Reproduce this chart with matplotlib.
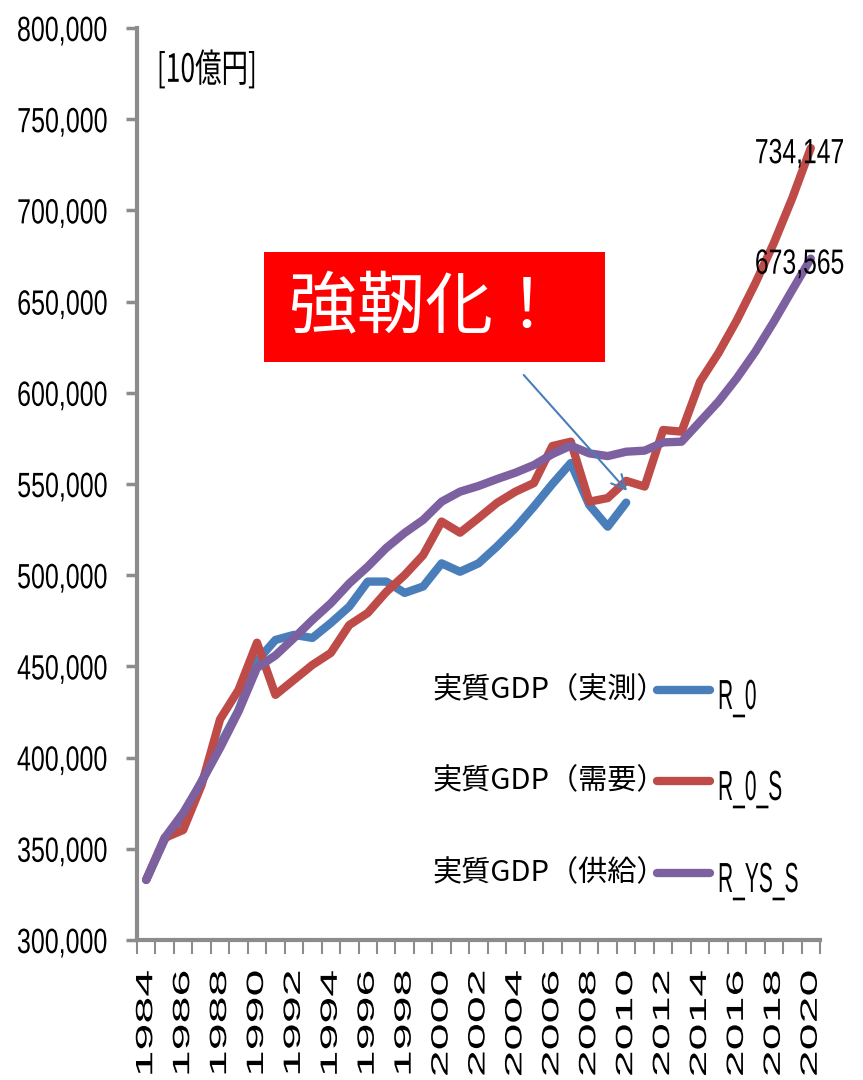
import matplotlib
matplotlib.use("Agg")
import matplotlib.pyplot as plt
from matplotlib.lines import Line2D
from matplotlib.patches import Rectangle
from matplotlib.patheffects import AbstractPathEffect
from matplotlib.transforms import Affine2D
from matplotlib.ticker import FuncFormatter

# -----------------------------
# data
# -----------------------------
years = list(range(1984, 2021))

r_0 = [333000, 355000, 368000, 387000, 407000, 426000, 453000, 464500, 467300, 465600,
       473800, 482800, 496500, 496500, 490300, 493800, 506500, 501900, 506500, 515700,
       525900, 537600, 550000, 561500, 538500, 526600, 539800]

r_0_s = [333000, 356000, 360300, 385000, 421000, 437100, 463000, 434400, 442600, 450800,
         457400, 472700, 479300, 490800, 500100, 511000, 529400, 523300, 531300, 539600,
         545800, 550500, 570800, 573200, 540300, 542300, 551700, 548600, 579600, 578700,
         606100, 621800, 639900, 660100, 682100, 706800, 734147]

r_ys_s = [333000, 356000, 369700, 386800, 405300, 425300, 449200, 456000, 465500, 475400,
          484600, 495500, 504700, 514900, 523200, 530300, 540300, 545800, 548900, 552700,
          556200, 560400, 566400, 571000, 566800, 565300, 567700, 568300, 572800, 573200,
          584200, 595200, 608100, 622600, 639000, 656400, 673565]

y_ticks = [300000, 350000, 400000, 450000, 500000, 550000, 600000, 650000, 700000,
           750000, 800000]

series_names = ["実質GDP（実測）", "実質GDP（需要）", "実質GDP（供給）"]
series_codes = ["R_0", "R_0_S", "R_YS_S"]
colors = ["#4A7EBB", "#BE4B48", "#7D60A0"]

latin = "Liberation Sans"
cjk = ["Noto Sans CJK JP", "DejaVu Sans"]


# -----------------------------
# scale glyphs (Excel-like narrow / tall fonts)
# -----------------------------
class Squeeze(AbstractPathEffect):
    def __init__(self, sx=1.0, sy=1.0, anchor="left"):
        super().__init__()
        self.sx = sx
        self.sy = sy
        self.anchor = anchor

    def draw_path(self, renderer, gc, tpath, affine, rgbFace=None):
        xs = tpath.vertices[:, 0]
        ys = tpath.vertices[:, 1]
        if len(xs) == 0:
            return
        if self.anchor == "right":
            x0 = xs.max()
        elif self.anchor == "center":
            x0 = (xs.min() + xs.max()) / 2
        else:
            x0 = 0
        y0 = ys.max() / 2
        t = (Affine2D().translate(-x0, -y0).scale(self.sx, self.sy)
             .translate(x0, y0) + affine)
        renderer.draw_path(gc, tpath, t, rgbFace)


fig = plt.figure(figsize=(8.63, 10.8), dpi=100)
ax = fig.add_axes([137 / 863, 1 - 940 / 1080, 683 / 863, 912 / 1080])

for vals, c in zip([r_0, r_0_s, r_ys_s], colors):
    ax.plot(years[:len(vals)], vals, color=c, linewidth=6, solid_capstyle="round")

# axes
ax.set_xlim(1983.5, 2020.5)
ax.set_ylim(300000, 800000)
ax.set_yticks(y_ticks)
ax.yaxis.set_major_formatter(FuncFormatter(lambda v, p: f"{int(v):,}"))
ax.tick_params(axis="y", length=8, width=2.5, color="#8C8C8C", pad=13,
               labelsize=18)
for lab in ax.get_yticklabels():
    lab.set_family(latin)
    lab.set_path_effects([Squeeze(1.0, 1.4, "right")])

ax.set_xticks(years[::2])
ax.set_xticklabels([str(y) for y in years[::2]], rotation=90, fontsize=17,
                   family=latin)
for lab in ax.get_xticklabels():
    lab.set_path_effects([Squeeze(2.05, 1.0, "right")])
ax.set_xticks([y - 0.5 for y in years] + [2020.5], minor=True)
ax.tick_params(axis="x", which="major", length=0, pad=22)
ax.tick_params(axis="x", which="minor", length=10, width=1.5, color="#8C8C8C")

for side in ["top", "right"]:
    ax.spines[side].set_visible(False)
for side in ["left", "bottom"]:
    ax.spines[side].set_color("#8C8C8C")
    ax.spines[side].set_linewidth(3)

# unit label
ax.text(0.029, 0.975, "[10億円]", transform=ax.transAxes, fontsize=28,
        family=cjk, va="top", ha="left", path_effects=[Squeeze(0.68, 1.0, "left")])

# end value labels
for vals in [r_0_s, r_ys_s]:
    ax.annotate(f"{vals[-1]:,}", (years[-1], vals[-1]), xytext=(-8, -4),
                textcoords="offset points", ha="center", va="center",
                fontsize=20, family=latin, annotation_clip=False,
                path_effects=[Squeeze(0.89, 1.26, "center")])

# red callout box
ax.add_patch(Rectangle((0.186, 0.634), 0.499, 0.12, transform=ax.transAxes,
                       facecolor="#FF0000", edgecolor="none", zorder=5))
ax.text(0.422, 0.692, "強靭化！", transform=ax.transAxes, color="white",
        fontsize=49, family=cjk, ha="center", va="center", zorder=6)

ax.annotate("", xy=(2010.15, 545100), xytext=(2004.35, 610900),
            arrowprops=dict(arrowstyle="->", color="#4A7EBB", lw=1.5,
                            mutation_scale=25), zorder=6)

# legend (label - line - code)
rows_y = [690, 781, 873]
for name, code, c, ry in zip(series_names, series_codes, colors, rows_y):
    yf = 1 - ry / 1080
    fig.text(666 / 863, yf, name, ha="right", va="center", fontsize=21,
             family=cjk)
    fig.add_artist(Line2D([657 / 863, 710 / 863], [yf, yf], color=c,
                          linewidth=6, solid_capstyle="round",
                          transform=fig.transFigure))
    fig.text(718 / 863, yf - 0.006, code, ha="left", va="center", fontsize=21,
             family=latin, path_effects=[Squeeze(0.72, 1.44, "left")])

fig.savefig("out.png", dpi=100)
